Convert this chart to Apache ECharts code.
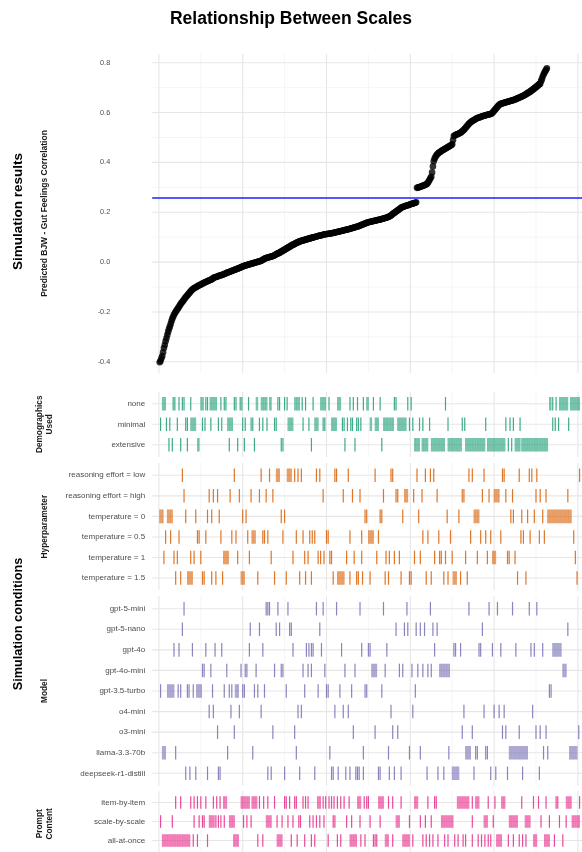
<!DOCTYPE html>
<html><head><meta charset="utf-8">
<script src="https://cdn.jsdelivr.net/npm/echarts@6/dist/echarts.min.js"></script>
<style>html,body{margin:0;padding:0;background:#fff}#c{width:582px;height:852px}</style>
</head><body><div id="c"></div>
<script>
// ---- DATA ----
const correlations = [
-0.402,-0.396,-0.386,-0.377,-0.362,-0.345,-0.333,-0.318,-0.306,-0.293,
-0.280,-0.269,-0.259,-0.249,-0.237,-0.227,-0.219,-0.211,-0.205,-0.199,
-0.194,-0.189,-0.184,-0.179,-0.173,-0.168,-0.163,-0.159,-0.155,-0.150,
-0.145,-0.141,-0.137,-0.133,-0.129,-0.125,-0.121,-0.117,-0.113,-0.110,
-0.107,-0.105,-0.103,-0.101,-0.099,-0.097,-0.095,-0.093,-0.092,-0.090,
-0.088,-0.086,-0.085,-0.083,-0.081,-0.080,-0.078,-0.077,-0.075,-0.074,
-0.072,-0.071,-0.069,-0.067,-0.064,-0.062,-0.061,-0.060,-0.059,-0.058,
-0.056,-0.055,-0.054,-0.053,-0.052,-0.051,-0.049,-0.048,-0.047,-0.045,
-0.043,-0.042,-0.041,-0.040,-0.038,-0.037,-0.036,-0.034,-0.033,-0.032,
-0.030,-0.029,-0.028,-0.026,-0.025,-0.024,-0.022,-0.021,-0.019,-0.018,
-0.016,-0.015,-0.014,-0.013,-0.012,-0.011,-0.010,-0.009,-0.008,-0.007,
-0.006,-0.005,-0.004,-0.003,-0.002,-0.001,0.000,0.001,0.002,0.003,
0.004,0.005,0.007,0.009,0.011,0.013,0.015,0.016,0.017,0.018,
0.019,0.020,0.021,0.022,0.023,0.024,0.025,0.027,0.029,0.031,
0.033,0.035,0.036,0.038,0.040,0.042,0.044,0.046,0.048,0.050,
0.052,0.054,0.056,0.058,0.060,0.062,0.064,0.066,0.068,0.070,
0.071,0.073,0.075,0.077,0.078,0.080,0.081,0.083,0.084,0.085,
0.086,0.087,0.088,0.089,0.090,0.091,0.092,0.093,0.094,0.095,
0.096,0.097,0.098,0.099,0.100,0.101,0.102,0.103,0.104,0.105,
0.106,0.107,0.107,0.108,0.109,0.110,0.111,0.112,0.112,0.113,
0.113,0.114,0.114,0.115,0.115,0.116,0.117,0.117,0.118,0.119,
0.120,0.121,0.121,0.122,0.123,0.124,0.125,0.125,0.126,0.127,
0.128,0.129,0.130,0.130,0.131,0.132,0.133,0.134,0.135,0.136,
0.137,0.138,0.139,0.140,0.141,0.142,0.143,0.144,0.145,0.147,
0.148,0.150,0.151,0.152,0.154,0.155,0.156,0.158,0.159,0.160,
0.161,0.162,0.162,0.163,0.164,0.165,0.166,0.166,0.167,0.168,
0.169,0.170,0.170,0.171,0.172,0.173,0.174,0.175,0.176,0.177,
0.178,0.179,0.180,0.182,0.183,0.185,0.187,0.190,0.193,0.196,
0.198,0.200,0.203,0.205,0.208,0.210,0.213,0.215,0.218,0.220,
0.221,0.222,0.224,0.225,0.226,0.227,0.228,0.229,0.230,0.232,
0.233,0.234,0.235,0.236,0.237,0.238,0.240,
0.298,0.299,0.300,0.301,0.302,0.303,0.305,0.306,0.307,0.309,0.310,0.312,0.314,
0.318,0.324,0.330,0.336,0.342,0.360,0.384,0.405,0.415,0.422,
0.428,0.432,0.436,0.439,0.441,0.443,0.446,0.448,0.450,0.452,
0.454,0.456,0.458,0.460,0.462,0.464,0.466,0.468,0.470,0.473,
0.490,0.506,0.508,0.510,0.512,0.513,0.514,0.516,0.518,0.519,
0.522,0.525,0.528,0.531,0.535,0.539,0.543,0.547,0.551,0.555,
0.558,0.561,0.564,0.566,0.568,0.570,0.572,0.574,0.576,0.578,
0.579,0.580,0.581,0.582,0.584,0.585,0.586,0.587,0.588,0.589,
0.590,0.591,0.592,0.593,0.593,0.594,0.596,0.599,0.603,0.607,
0.611,0.615,0.619,0.623,0.627,0.630,0.633,0.635,0.636,0.637,
0.638,0.639,0.640,0.641,0.642,0.643,0.644,0.645,0.646,0.647,
0.648,0.649,0.650,0.651,0.652,0.654,0.655,0.657,0.658,0.660,
0.661,0.663,0.664,0.666,0.667,0.669,0.671,0.673,0.676,0.678,
0.680,0.682,0.684,0.687,0.689,0.692,0.694,0.697,0.700,0.702,
0.705,0.708,0.711,0.714,0.716,0.726,0.734,0.745,0.753,0.760,
0.766,0.772,0.778
];
const benchmark = 0.258;
const yTickValues = [-0.4, -0.2, 0, 0.2, 0.4, 0.6, 0.8];
const yMinorValues = [-0.3, -0.1, 0.1, 0.3, 0.5, 0.7];
const xMajorValues = [0, 100, 200, 300, 400, 500];
const xMinorValues = [50, 150, 250, 350, 450];

// specification indices per condition level; [a,b] = consecutive run a..b
const demographicsLevels = ['none', 'minimal', 'extensive'];
const demNone = [[4,8],17,19,24,28,30,38,[50,53],56,58,[61,69],74,78,80,90,92,97,99,107,[116,118],[122,129],[132,134],142,144,150,153,[162,168],171,175,184,[193,199],203,[213,217],228,232,237,244,[248,250],256,264,281,283,297,301,342,[466,468],470,474,[478,488],[491,502]];
const demMinimal = [2,9,13,22,32,34,[38,44],52,55,62,71,75,[82,88],100,103,110,112,120,124,129,138,140,[154,160],172,179,[186,190],196,198,[206,212],219,221,225,229,231,236,238,241,[252,254],[258,262],[268,280],[285,295],299,303,311,315,323,345,362,365,390,414,419,423,431,470,473,477,489];
const demExtensive = [12,16,26,34,[46,48],84,94,102,114,146,148,182,222,234,266,[305,311],[314,321],[325,341],[345,361],[366,389],[392,413],417,421,[425,431],[433,464]];

const hyperLevels = ['reasoning effort = low', 'reasoning effort = high', 'temperature = 0', 'temperature = 0.5', 'temperature = 1', 'temperature = 1.5'];
const hypLow = [28,90,122,132,[140,144],[153,158],162,166,170,188,192,210,212,226,258,277,279,308,318,324,328,370,374,388,410,412,430,442,445,451,502];
const hypHigh = [30,60,65,70,85,96,110,120,128,136,196,220,231,240,268,283,285,[293,297],304,314,332,362,364,386,394,[400,406],414,422,450,455,462,488];
const hypT0 = [[1,5],[10,16],32,44,58,63,72,100,104,146,150,246,248,264,266,291,310,344,358,[376,382],420,423,433,440,448,458,[464,492]];
const hypT05 = [8,14,24,46,48,56,74,87,92,106,[111,115],124,126,130,148,164,172,180,183,186,200,202,228,242,[250,256],262,315,321,334,348,372,384,390,396,408,432,435,443,454,460,495];
const hypT1 = [6,18,22,38,42,50,[77,83],94,108,134,160,174,178,190,193,197,204,206,224,233,242,260,271,275,281,287,305,312,329,335,337,342,350,366,380,392,[398,402],416,418,425,497];
const hypT15 = [20,26,[34,40],52,54,63,68,76,[98,102],118,138,152,168,175,182,208,[213,221],228,236,238,243,252,270,274,289,299,301,319,325,340,345,[351,355],360,368,428,438,499];

const modelLevels = ['gpt-5-mini', 'gpt-5-nano', 'gpt-4o', 'gpt-4o-mini', 'gpt-3.5-turbo', 'o4-mini', 'o3-mini', 'llama-3.3-70b', 'deepseek-r1-distill'];
const mGpt5mini = [30,128,130,132,142,154,188,196,212,240,268,296,324,370,394,404,422,442,451];
const mGpt5nano = [28,109,120,140,144,156,158,192,283,293,297,307,312,317,327,332,386,488];
const mGpt4o = [18,24,40,56,67,75,108,124,160,176,179,182,184,194,218,242,250,252,272,329,352,354,360,382,384,398,408,426,444,448,458,[470,480]];
const mGpt4omini = [52,54,62,81,98,103,105,116,138,146,148,172,178,182,198,222,234,[254,260],270,287,291,302,309,315,321,325,[335,347],[482,486]];
const mGpt35 = [2,[10,18],23,26,34,36,41,[45,51],64,78,84,87,[91,95],100,102,114,118,126,152,174,190,200,202,216,230,246,248,266,306,466,468];
const mO4mini = [60,65,86,96,122,166,170,210,220,226,277,303,364,388,400,406,412,446];
const mO3mini = [70,90,136,162,232,258,279,285,362,374,410,414,430,450,455,462,501];
const mLlama = [[4,8],20,82,112,164,204,244,274,299,312,346,[366,372],378,380,390,392,[418,440],459,464,[490,499]];
const mDeepseek = [32,37,44,58,71,73,130,134,150,168,186,206,208,214,223,228,235,237,239,244,262,264,275,281,289,320,333,340,[350,358],376,396,402,416,434,454];

const promptLevels = ['item-by-item', 'scale-by-scale', 'all-at-once'];
const pItem = [20,26,38,42,46,50,56,65,69,73,[77,81],[98,108],[111,117],120,125,130,138,150,152,156,162,164,172,175,178,[189,193],196,199,203,206,209,213,217,221,227,[237,241],245,248,250,[262,268],274,279,289,[305,309],321,329,331,[356,370],374,[378,382],393,401,[409,413],433,447,453,462,474,476,[486,492],502];
const pScale = [2,16,42,48,52,54,[60,66],68,71,74,78,[84,90],101,105,110,[128,134],141,147,154,160,167,169,180,184,188,192,197,208,210,224,230,240,252,264,[283,287],299,312,318,325,[337,351],374,[388,392],399,[418,428],[437,443],456,466,478,486,[493,502]];
const pAll = [[4,37],41,46,58,[89,95],118,124,[141,147],158,165,174,182,186,202,213,217,[228,236],241,246,256,258,260,[270,274],279,[291,299],303,315,319,323,327,333,341,345,353,357,363,366,374,381,385,389,393,396,[403,409],417,423,430,434,438,[447,451],[460,466],472,482];

// ---- LAYOUT / STYLE ----
const FONT = '"Liberation Sans", Arial, Helvetica, sans-serif';
const LEFT = 152.2, XMIN = -8, XMAX = 504.9;
const panels = [
  {title: 'Demographics\nUsed', levels: demographicsLevels, rows: [demNone, demMinimal, demExtensive], color: '#1B9E77', center: 424.3, sp: 20.5},
  {title: 'Hyperparameter', levels: hyperLevels, rows: [hypLow, hypHigh, hypT0, hypT05, hypT1, hypT15], color: '#D95F02', center: 526.65, sp: 20.55},
  {title: 'Model', levels: modelLevels, rows: [mGpt5mini, mGpt5nano, mGpt4o, mGpt4omini, mGpt35, mO4mini, mO3mini, mLlama, mDeepseek], color: '#7570B3', center: 691.0, sp: 20.58},
  {title: 'Prompt\nContent', levels: promptLevels, rows: [pItem, pScale, pAll], color: '#E7298A', center: 823.8, sp: 20.5}
];

const grids = [{left: LEFT, right: 0, top: 54, height: 319}];
const xAxes = [{type: 'value', gridIndex: 0, min: XMIN, max: XMAX, show: false}];
const yAxes = [{
  type: 'value', gridIndex: 0, min: -0.445, max: 0.835,
  axisLine: {show: false}, axisTick: {show: false}, splitLine: {show: false},
  axisLabel: {customValues: yTickValues, formatter: v => Number(v).toFixed(1), fontSize: 7.3, color: '#4D4D4D', margin: 42, fontFamily: FONT}
}];
const series = [];
const graphics = [];

function gridSeries(gi, vMaj, vMin, hMaj, hMin, yRef) {
  const data = [];
  vMaj.forEach(v => data.push([v, 0]));
  vMin.forEach(v => data.push([v, 1]));
  hMaj.forEach(v => data.push([v, 2]));
  hMin.forEach(v => data.push([v, 3]));
  return {
    type: 'custom', xAxisIndex: gi, yAxisIndex: gi, silent: true, z: 0, clip: false,
    data: data,
    renderItem: function (params, api) {
      const cs = params.coordSys;
      const v = api.value(0), t = api.value(1);
      const major = (t === 0 || t === 2);
      const style = {stroke: major ? '#E6E6E6' : '#EFEFEF', lineWidth: major ? 1.1 : 0.6};
      if (t < 2) {
        const x = api.coord([v, yRef])[0];
        return {type: 'line', shape: {x1: x, y1: cs.y, x2: x, y2: cs.y + cs.height}, style: style};
      } else {
        const y = api.coord([0, v])[1];
        return {type: 'line', shape: {x1: cs.x, y1: y, x2: cs.x + cs.width, y2: y}, style: style};
      }
    }
  };
}

series.push(gridSeries(0, xMajorValues, xMinorValues, yTickValues, yMinorValues, 0));
series.push({
  type: 'scatter', xAxisIndex: 0, yAxisIndex: 0, z: 2,
  data: correlations.map((v, i) => [i + 1, v]),
  symbolSize: 6.6, itemStyle: {color: '#000000'}, silent: true,
  markLine: {silent: true, symbol: 'none', label: {show: false},
    lineStyle: {color: '#1F1FFF', width: 1.5, type: 'solid'},
    data: [{yAxis: benchmark}]}
});

panels.forEach((p, k) => {
  const gi = k + 1;
  const n = p.levels.length;
  const h = (n - 1 + 1.2) * p.sp;
  grids.push({left: LEFT, right: 0, top: p.center - h / 2, height: h});
  xAxes.push({type: 'value', gridIndex: gi, min: XMIN, max: XMAX, show: false});
  const idx = p.levels.map((_, j) => j);
  yAxes.push({
    type: 'value', gridIndex: gi, inverse: true, min: -0.6, max: n - 0.4,
    axisLine: {show: false}, axisTick: {show: false}, splitLine: {show: false},
    axisLabel: {customValues: idx, formatter: v => p.levels[Math.round(v)], fontSize: 8, color: '#4D4D4D', margin: 7, fontFamily: FONT}
  });
  series.push(gridSeries(gi, xMajorValues, xMinorValues, idx, [], 0));
  // each item: [spec index, row, inRun]
  const items = [];
  p.rows.forEach((row, r) => row.forEach(e => {
    if (Array.isArray(e)) { for (let s = e[0]; s <= e[1]; s++) items.push([s, r, 1]); }
    else items.push([e, r, 0]);
  }));
  const color = p.color;
  series.push({
    type: 'custom', xAxisIndex: gi, yAxisIndex: gi, z: 3, silent: true,
    data: items,
    renderItem: function (params, api) {
      const s = api.value(0), r = api.value(1), run = api.value(2);
      const half = run ? 0.4 : 0.72;
      const a = api.coord([s - half, r]);
      const b = api.coord([s + half, r]);
      const hh = api.size([0, 1])[1] * 0.66;
      return {type: 'rect', shape: {x: a[0], y: a[1] - hh / 2, width: b[0] - a[0], height: hh},
        style: {fill: color, opacity: 0.85}};
    }
  });
  graphics.push({
    type: 'text', x: 44.5, y: p.center, rotation: Math.PI / 2, silent: true,
    style: {text: p.title, fontSize: 8.3, fontWeight: 'bold', fontFamily: FONT, fill: '#1a1a1a',
      align: 'center', verticalAlign: 'middle', textAlign: 'center', textVerticalAlign: 'middle', lineHeight: 10}
  });
});

graphics.push({
  type: 'text', x: 18, y: 211.5, rotation: Math.PI / 2, silent: true,
  style: {text: 'Simulation results', fontSize: 13.5, fontWeight: 'bold', fontFamily: FONT, fill: '#000',
    align: 'center', verticalAlign: 'middle', textAlign: 'center', textVerticalAlign: 'middle'}
});
graphics.push({
  type: 'text', x: 18, y: 624, rotation: Math.PI / 2, silent: true,
  style: {text: 'Simulation conditions', fontSize: 12.7, fontWeight: 'bold', fontFamily: FONT, fill: '#000',
    align: 'center', verticalAlign: 'middle', textAlign: 'center', textVerticalAlign: 'middle'}
});
graphics.push({
  type: 'text', x: 44.5, y: 213.5, rotation: Math.PI / 2, silent: true,
  style: {text: 'Predicted BJW - Gut Feelings Correlation', fontSize: 8.5, fontWeight: 'bold', fontFamily: FONT, fill: '#1a1a1a',
    align: 'center', verticalAlign: 'middle', textAlign: 'center', textVerticalAlign: 'middle'}
});

const chart = echarts.init(document.getElementById('c'), null, {renderer: 'canvas'});
chart.setOption({
  animation: false,
  backgroundColor: '#ffffff',
  title: {text: 'Relationship Between Scales', left: 'center', top: 5,
    textStyle: {fontSize: 17.5, fontWeight: 'bold', color: '#000', fontFamily: FONT}},
  grid: grids, xAxis: xAxes, yAxis: yAxes, series: series, graphic: graphics
});
</script></body></html>
